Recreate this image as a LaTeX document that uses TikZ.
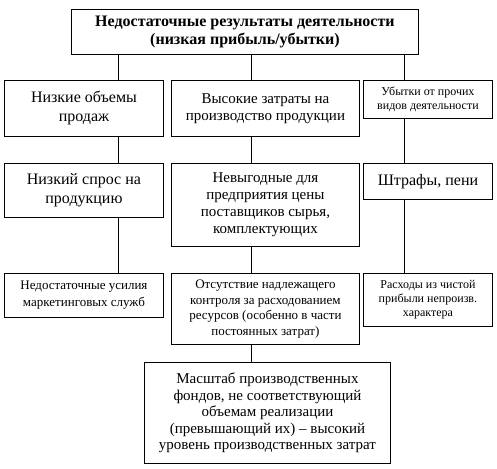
\documentclass[tikz,border=0pt]{standalone}
\usepackage{fontspec}
\setmainfont{Liberation Serif}
\begin{document}
\begin{tikzpicture}[x=1pt,y=-1pt,
  box/.style={draw, line width=0.9pt, inner sep=0pt, align=center, anchor=north west},
  conn/.style={line width=0.9pt}]
\useasboundingbox (0,0) rectangle (497,468);
\node[box, minimum width=347pt, minimum height=45pt, font=\fontsize{16}{18}\selectfont\bfseries] (top) at (71,9)
  {Недостаточные результаты деятельности\\(низкая прибыль/убытки)};
% row 2
\node[box, minimum width=159pt, minimum height=56pt, font=\fontsize{16}{19}\selectfont] (a) at (4,80)
  {Низкие объемы\\продаж};
\node[box, minimum width=188pt, minimum height=56pt, font=\fontsize{15}{17}\selectfont] (b) at (171,80)
  {Высокие затраты на\\производство продукции};
\node[box, minimum width=129pt, minimum height=38pt, font=\fontsize{12}{14}\selectfont] (c) at (363,80)
  {Убытки от прочих\\видов деятельности};
% row 3
\node[box, minimum width=159pt, minimum height=54pt, font=\fontsize{16}{19}\selectfont] (d) at (4,163)
  {Низкий спрос на\\продукцию};
\node[box, minimum width=188pt, minimum height=83pt, font=\fontsize{15}{17}\selectfont] (e) at (171,163)
  {Невыгодные для\\предприятия цены\\поставщиков сырья,\\комплектующих};
\node[box, minimum width=129pt, minimum height=36pt, font=\fontsize{16}{19}\selectfont] (f) at (363,163)
  {Штрафы, пени};
% row 4
\node[box, minimum width=159pt, minimum height=44pt, font=\fontsize{13}{17}\selectfont] (g) at (4,273)
  {Недостаточные усилия\\маркетинговых служб};
\node[box, minimum width=188pt, minimum height=71pt, font=\fontsize{13}{15.5}\selectfont] (h) at (171,273)
  {Отсутствие надлежащего\\контроля за расходованием\\ресурсов (особенно в части\\постоянных затрат)};
\node[box, minimum width=129pt, minimum height=53pt, font=\fontsize{12}{14}\selectfont] (i) at (363,273)
  {Расходы из чистой\\прибыли непроизв.\\характера};
% row 5
\node[box, minimum width=246pt, minimum height=101pt, font=\fontsize{15}{16.5}\selectfont] (j) at (144,362)
  {Масштаб производственных\\фондов, не соответствующий\\объемам реализации\\(превышающий их) -- высокий\\уровень производственных затрат};
% connector columns
\coordinate (x1) at (118,0);
\coordinate (x2) at (251,0);
\coordinate (x3) at (404,0);
\draw[conn] (top.south -| x1) -- (a.north -| x1);
\draw[conn] (top.south -| x2) -- (b.north -| x2);
\draw[conn] (top.south -| x3) -- (c.north -| x3);
\draw[conn] (a.south -| x1) -- (d.north -| x1);
\draw[conn] (b.south -| x2) -- (e.north -| x2);
\draw[conn] (c.south -| x3) -- (f.north -| x3);
\draw[conn] (d.south -| x1) -- (g.north -| x1);
\draw[conn] (e.south -| x2) -- (h.north -| x2);
\draw[conn] (f.south -| x3) -- (i.north -| x3);
\draw[conn] (h.south -| x2) -- (j.north -| x2);
\end{tikzpicture}
\end{document}
